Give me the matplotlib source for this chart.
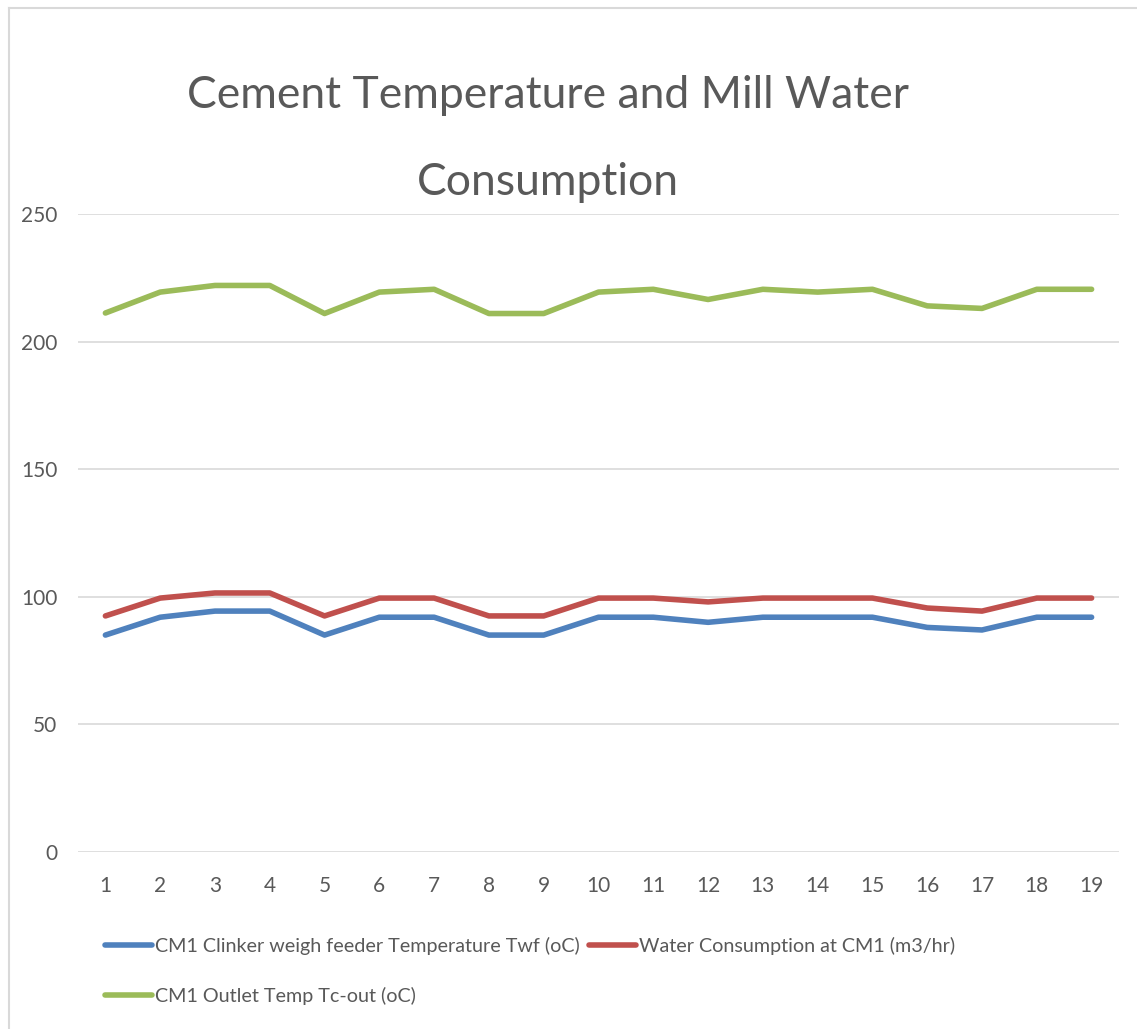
import matplotlib
matplotlib.use("Agg")
import matplotlib.pyplot as plt
from matplotlib.lines import Line2D

plt.rcParams['font.family'] = ['Lato', 'DejaVu Sans']

days = list(range(1, 20))
clinker_temp = [85, 92, 94.4, 94.4, 85, 92, 92, 85, 85, 92, 92, 90, 92, 92, 92, 88, 87, 92, 92]
water_cons = [92.5, 99.5, 101.5, 101.5, 92.5, 99.5, 99.5, 92.5, 92.5, 99.5, 99.5, 98, 99.5, 99.5, 99.5, 95.6, 94.4, 99.5, 99.5]
outlet_temp = [211.2, 219.4, 222, 222, 211, 219.4, 220.5, 211, 211, 219.4, 220.5, 216.5, 220.5, 219.4, 220.5, 214, 213, 220.5, 220.5]
labels = ["CM1 Clinker weigh feeder Temperature Twf (oC)",
          "Water Consumption at CM1 (m3/hr)",
          "CM1 Outlet Temp Tc-out (oC)"]
colors = ["#4F81BD", "#C0504D", "#9BBB59"]
txt = "#595959"

fig = plt.figure(figsize=(11.37, 10.29), dpi=100)
ax = fig.add_axes([78/1137, 1-852/1029, (1119-78)/1137, (852-214)/1029])

lines = []
for ys, c, lab in zip([clinker_temp, water_cons, outlet_temp], colors, labels):
    l, = ax.plot(days, ys, color=c, lw=4.0, label=lab, solid_capstyle='round', solid_joinstyle='round')
    lines.append(l)

ax.set_xlim(0.5, 19.5)
ax.set_ylim(0, 250)
ax.set_yticks(range(0, 251, 50))
ax.set_xticks(days)
ax.grid(axis='y', color='#D9D9D9', lw=1.2)
ax.set_axisbelow(True)
for s in ax.spines.values():
    s.set_visible(False)
ax.tick_params(length=0, labelsize=15, labelcolor=txt)
ax.tick_params(axis='y', pad=15)
ax.tick_params(axis='x', pad=17)

fig.text(548/1137, 1-108/1029, "Cement Temperature and Mill Water",
         ha='center', va='baseline', fontsize=32, color=txt)
fig.text(548/1137, 1-195/1029, "Consumption",
         ha='center', va='baseline', fontsize=32, color=txt)

fig.legend([lines[0], lines[2], lines[1]], [labels[0], labels[2], labels[1]],
           ncol=2, loc='upper left', bbox_to_anchor=(105/1137, 1-937/1029),
           frameon=False, fontsize=14.2, labelcolor=txt, handlelength=2.4,
           handletextpad=0.15, columnspacing=0.45, labelspacing=1.6,
           borderaxespad=0, borderpad=0)

fig.add_artist(Line2D([9/1137, 1], [1-8/1029, 1-8/1029], color='#D9D9D9', lw=1.5, transform=fig.transFigure))
fig.add_artist(Line2D([9/1137, 9/1137], [0, 1-8/1029], color='#D9D9D9', lw=1.5, transform=fig.transFigure))

fig.savefig("out.png", dpi=100, facecolor='white')
